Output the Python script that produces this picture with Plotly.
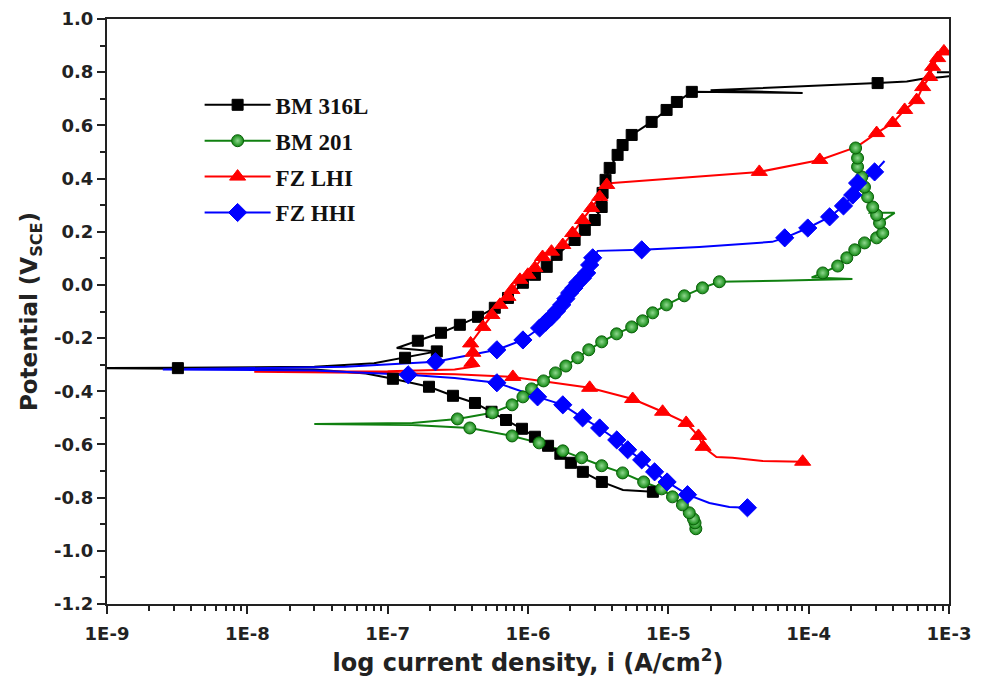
import plotly.graph_objects as go

# ---------------- data (current density A/cm^2, potential V_SCE) ----------------
# BM 316L
bm316_line_i = [7.76e-6, 6.2e-6, 4.75e-6, 3.36e-6, 2.46e-6, 2.02e-6, 1.7e-6, 1.39e-6, 1.12e-6, 9.06e-7, 6.97e-7,
                5.5e-7, 4.19e-7, 2.92e-7, 1.97e-7, 1.09e-7, 7e-8, 3e-8, 3.2e-9, 5e-10, 3.2e-9, 3e-8, 8e-8,
                1.33e-7, 2.24e-7, 1.16e-7, 1.64e-7, 2.4e-7, 3.27e-7, 4.4e-7, 5.8e-7, 7.2e-7, 9.2e-7, 1.12e-6,
                1.36e-6, 1.6e-6, 2.15e-6, 2.54e-6, 2.99e-6, 3.35e-6, 3.4e-6, 3.57e-6, 3.82e-6, 4.35e-6, 4.72e-6,
                5.48e-6, 7.6e-6, 9.72e-6, 1.15e-5, 1.47e-5, 9.06e-5, 2.0e-5, 1.2e-4, 3.1e-4, 5.0e-4, 6.5e-4,
                9.0e-4, 1.3e-3, 1.3e-3, 8.2e-4]
bm316_line_E = [-0.778, -0.776, -0.771, -0.741, -0.703, -0.669, -0.635, -0.605, -0.571, -0.541, -0.508,
                -0.477, -0.444, -0.417, -0.383, -0.353, -0.333, -0.318, -0.313, -0.313, -0.312, -0.308, -0.295,
                -0.274, -0.250, -0.237, -0.210, -0.180, -0.150, -0.120, -0.086, -0.049, 0.008, 0.038,
                0.068, 0.113, 0.169, 0.207, 0.244, 0.293, 0.346, 0.395, 0.440, 0.489, 0.526,
                0.564, 0.613, 0.658, 0.688, 0.726, 0.722, 0.732, 0.748, 0.759, 0.765, 0.775,
                0.782, 0.790, 0.800, 0.800]
bm316_mark_i = [3.2e-9, 1.09e-7, 1.97e-7, 2.92e-7, 4.19e-7, 5.5e-7, 6.97e-7, 9.06e-7, 1.12e-6, 1.39e-6, 1.7e-6,
                2.02e-6, 2.46e-6, 3.36e-6, 7.76e-6,
                1.33e-7, 2.24e-7, 1.64e-7, 2.4e-7, 3.27e-7, 4.4e-7, 5.8e-7, 7.2e-7, 9.2e-7, 1.12e-6, 1.36e-6,
                1.6e-6, 2.15e-6, 2.54e-6, 2.99e-6, 3.35e-6, 3.4e-6, 3.57e-6, 3.82e-6, 4.35e-6, 4.72e-6, 5.48e-6,
                7.6e-6, 9.72e-6, 1.15e-5, 1.47e-5, 3.1e-4]
bm316_mark_E = [-0.313, -0.353, -0.383, -0.417, -0.444, -0.477, -0.508, -0.541, -0.571, -0.605, -0.635,
                -0.669, -0.703, -0.741, -0.778,
                -0.274, -0.250, -0.210, -0.180, -0.150, -0.120, -0.086, -0.049, 0.008, 0.038, 0.068,
                0.113, 0.169, 0.207, 0.244, 0.293, 0.346, 0.395, 0.440, 0.489, 0.526, 0.564,
                0.613, 0.658, 0.688, 0.726, 0.759]

# BM 201
bm201_line_i = [1.57e-5, 1.55e-5, 1.51e-5, 1.41e-5, 1.26e-5, 1.07e-5, 8.96e-6, 6.67e-6, 4.72e-6, 3.35e-6,
                2.41e-6, 1.77e-6, 1.2e-6, 7.7e-7, 3.85e-7, 1.5e-7, 3e-8, 1.5e-7, 3.14e-7, 5.57e-7, 7.7e-7,
                9.2e-7, 1.06e-6, 1.29e-6, 1.57e-6, 1.86e-6, 2.26e-6, 2.71e-6, 3.35e-6, 4.28e-6, 5.48e-6,
                6.56e-6, 7.73e-6, 9.7e-6, 1.3e-5, 1.75e-5, 2.31e-5, 6.0e-5, 1.5e-4, 2.05e-4, 1.05e-4,
                1.26e-4, 1.61e-4, 1.87e-4, 2.13e-4, 2.5e-4, 3.05e-4, 3.37e-4, 3.2e-4, 4.1e-4, 2.72e-4,
                2.86e-4, 2.63e-4, 2.5e-4, 2.39e-4, 2.23e-4, 2.23e-4, 2.16e-4]
bm201_line_E = [-0.917, -0.895, -0.880, -0.857, -0.827, -0.797, -0.767, -0.741, -0.707, -0.680,
                -0.650, -0.624, -0.594, -0.568, -0.538, -0.527, -0.523, -0.519, -0.504, -0.481, -0.451,
                -0.421, -0.391, -0.361, -0.331, -0.305, -0.274, -0.244, -0.214, -0.184, -0.158,
                -0.135, -0.105, -0.075, -0.041, -0.011, 0.012, 0.016, 0.020, 0.022, 0.028,
                0.045, 0.071, 0.102, 0.132, 0.158, 0.177, 0.195, 0.233, 0.271, 0.271,
                0.293, 0.331, 0.368, 0.406, 0.444, 0.477, 0.515]
bm201_mark_i = [1.57e-5, 1.55e-5, 1.51e-5, 1.41e-5, 1.26e-5, 1.07e-5, 8.96e-6, 6.67e-6, 4.72e-6, 3.35e-6,
                2.41e-6, 1.77e-6, 1.2e-6, 7.7e-7, 3.85e-7,
                3.14e-7, 5.57e-7, 7.7e-7, 9.2e-7, 1.06e-6, 1.29e-6, 1.57e-6, 1.86e-6, 2.26e-6, 2.71e-6,
                3.35e-6, 4.28e-6, 5.48e-6, 6.56e-6, 7.73e-6, 9.7e-6, 1.3e-5, 1.75e-5, 2.31e-5,
                1.26e-4, 1.61e-4, 1.87e-4, 2.13e-4, 2.5e-4, 3.05e-4, 3.37e-4, 3.2e-4, 3.05e-4, 2.86e-4,
                2.63e-4, 2.5e-4, 2.39e-4, 2.23e-4, 2.23e-4, 2.16e-4]
bm201_mark_E = [-0.917, -0.895, -0.880, -0.857, -0.827, -0.797, -0.767, -0.741, -0.707, -0.680,
                -0.650, -0.624, -0.594, -0.568, -0.538,
                -0.504, -0.481, -0.451, -0.421, -0.391, -0.361, -0.331, -0.305, -0.274, -0.244,
                -0.214, -0.184, -0.158, -0.135, -0.105, -0.075, -0.041, -0.011, 0.012,
                0.045, 0.071, 0.102, 0.132, 0.158, 0.177, 0.195, 0.233, 0.263, 0.293,
                0.331, 0.368, 0.406, 0.444, 0.477, 0.515]

# FZ LHI
lhi_line_i = [9.06e-5, 4.7e-5, 2.86e-5, 2.2e-5, 1.77e-5, 1.64e-5, 1.34e-5, 9.1e-6, 5.57e-6, 2.75e-6, 7.8e-7,
              3e-7, 1e-7, 1.12e-8, 1e-7, 3e-7, 4.4e-7, 3.98e-7, 4.05e-7, 3.9e-7, 4.77e-7, 5.53e-7, 6.31e-7,
              7.19e-7, 7.68e-7, 8.76e-7, 9.97e-7, 1.12e-6, 1.27e-6, 1.47e-6, 1.77e-6, 2.08e-6, 2.45e-6,
              2.84e-6, 3.24e-6, 3.64e-6, 4.0e-6, 4.45e-5, 1.2e-4, 2.2e-4, 3.05e-4, 3.97e-4, 4.83e-4,
              5.88e-4, 6.49e-4, 7.28e-4, 7.64e-4, 8.3e-4, 9.2e-4]
lhi_line_E = [-0.665, -0.662, -0.650, -0.647, -0.609, -0.568, -0.519, -0.477, -0.429, -0.387, -0.346,
              -0.336, -0.331, -0.327, -0.325, -0.318, -0.305, -0.293, -0.255, -0.220, -0.158, -0.113, -0.075,
              -0.045, -0.019, 0.019, 0.038, 0.064, 0.105, 0.125, 0.150, 0.195, 0.244,
              0.289, 0.331, 0.376, 0.383, 0.425, 0.470, 0.519, 0.571, 0.609, 0.658,
              0.695, 0.744, 0.782, 0.820, 0.853, 0.878]
lhi_mark_i = [9.06e-5, 1.77e-5, 1.64e-5, 1.34e-5, 9.1e-6, 5.57e-6, 2.75e-6, 7.8e-7,
              3.98e-7, 4.05e-7, 3.9e-7, 4.77e-7, 5.53e-7, 6.31e-7, 7.19e-7, 7.68e-7, 8.76e-7, 9.97e-7,
              1.12e-6, 1.27e-6, 1.47e-6, 1.77e-6, 2.08e-6, 2.45e-6, 2.84e-6, 3.24e-6, 3.64e-6,
              4.45e-5, 1.2e-4, 3.05e-4, 3.97e-4, 4.83e-4, 5.88e-4, 6.49e-4, 7.28e-4, 7.64e-4, 8.3e-4, 9.2e-4]
lhi_mark_E = [-0.665, -0.609, -0.568, -0.519, -0.477, -0.429, -0.387, -0.346,
              -0.293, -0.255, -0.220, -0.158, -0.113, -0.075, -0.045, -0.019, 0.019, 0.038,
              0.064, 0.105, 0.125, 0.150, 0.195, 0.244, 0.289, 0.331, 0.376,
              0.425, 0.470, 0.571, 0.609, 0.658, 0.695, 0.744, 0.782, 0.820, 0.853, 0.878]

# FZ HHI
hhi_line_i = [3.66e-5, 2.72e-5, 1.96e-5, 1.37e-5, 9.8e-6, 7.98e-6, 6.46e-6, 5.13e-6, 4.29e-6, 3.24e-6, 2.45e-6,
              1.77e-6, 1.17e-6, 6.0e-7, 3e-7, 1.4e-7, 3e-8, 2.5e-9, 5e-8, 2.19e-7, 6.0e-7, 9.2e-7, 1.21e-6,
              1.34e-6, 1.47e-6, 1.6e-6, 1.74e-6, 1.86e-6, 1.98e-6, 2.12e-6, 2.26e-6, 2.44e-6, 2.62e-6,
              2.75e-6, 2.89e-6, 3.14e-6, 6.46e-6, 1.66e-5, 5.5e-5, 6.75e-5, 9.85e-5, 1.41e-4, 1.77e-4,
              2.06e-4, 2.23e-4, 2.95e-4, 3.47e-4]
hhi_line_E = [-0.838, -0.835, -0.820, -0.789, -0.741, -0.703, -0.658, -0.620, -0.583, -0.538, -0.500,
              -0.451, -0.421, -0.368, -0.350, -0.338, -0.322, -0.318, -0.308, -0.289, -0.244, -0.207, -0.162,
              -0.140, -0.120, -0.098, -0.075, -0.052, -0.030, -0.012, 0.008, 0.025, 0.045,
              0.075, 0.102, 0.128, 0.132, 0.143, 0.162, 0.177, 0.214, 0.256, 0.297,
              0.338, 0.383, 0.425, 0.466]
hhi_mark_i = [3.66e-5, 1.37e-5, 9.8e-6, 7.98e-6, 6.46e-6, 5.13e-6, 4.29e-6, 3.24e-6, 2.45e-6, 1.77e-6,
              1.17e-6, 6.0e-7, 1.4e-7,
              2.19e-7, 6.0e-7, 9.2e-7, 1.21e-6, 1.34e-6, 1.47e-6, 1.6e-6, 1.74e-6, 1.86e-6, 1.98e-6, 2.12e-6,
              2.26e-6, 2.44e-6, 2.62e-6, 2.75e-6, 2.89e-6, 6.46e-6, 6.75e-5, 9.85e-5, 1.41e-4, 1.77e-4,
              2.06e-4, 2.23e-4, 2.95e-4]
hhi_mark_E = [-0.838, -0.789, -0.741, -0.703, -0.658, -0.620, -0.583, -0.538, -0.500, -0.451,
              -0.421, -0.368, -0.338,
              -0.289, -0.244, -0.207, -0.162, -0.140, -0.120, -0.098, -0.075, -0.052, -0.030, -0.012,
              0.008, 0.025, 0.045, 0.075, 0.102, 0.132, 0.177, 0.214, 0.256, 0.297,
              0.338, 0.383, 0.425]

series_names = ["BM 316L", "BM 201", "FZ LHI", "FZ HHI"]

x_tick_vals = [1e-9, 1e-8, 1e-7, 1e-6, 1e-5, 1e-4, 1e-3]
x_tick_text = ["1E-9", "1E-8", "1E-7", "1E-6", "1E-5", "1E-4", "1E-3"]
y_tick_vals = [1.0, 0.8, 0.6, 0.4, 0.2, 0.0, -0.2, -0.4, -0.6, -0.8, -1.0, -1.2]
y_tick_text = ["1.0", "0.8", "0.6", "0.4", "0.2", "0.0", "-0.2", "-0.4", "-0.6", "-0.8", "-1.0", "-1.2"]

# ---------------- styles ----------------
styles = [
    dict(color="#000000", symbol="square", size=11, mline="#000000", grad=None),
    dict(color="#118811", symbol="circle", size=12, mline="#0a5f0a", grad="#8fd88f"),
    dict(color="#ff0000", symbol="triangle-up", size=14, mline="#ff0000", grad=None),
    dict(color="#0000ff", symbol="diamond", size=14, mline="#0000ff", grad=None),
]
line_colors = ["#000000", "#108010", "#ff0000", "#0000ff"]

data = [
    (bm316_line_i, bm316_line_E, bm316_mark_i, bm316_mark_E),
    (bm201_line_i, bm201_line_E, bm201_mark_i, bm201_mark_E),
    (lhi_line_i, lhi_line_E, lhi_mark_i, lhi_mark_E),
    (hhi_line_i, hhi_line_E, hhi_mark_i, hhi_mark_E),
]

fig = go.Figure()

for name, (li, le, mi, me), st, lc in zip(series_names, data, styles, line_colors):
    fig.add_trace(go.Scatter(x=li, y=le, mode="lines", line=dict(color=lc, width=2),
                             showlegend=False, hoverinfo="skip"))
for name, (li, le, mi, me), st, lc in zip(series_names, data, styles, line_colors):
    marker = dict(color=st["color"], symbol=st["symbol"], size=st["size"],
                  line=dict(color=st["mline"], width=1))
    if st["grad"]:
        marker["gradient"] = dict(type="radial", color=st["grad"])
    fig.add_trace(go.Scatter(x=mi, y=me, mode="markers", marker=marker, showlegend=False))
    # legend entry
    fig.add_trace(go.Scatter(x=[None], y=[None], mode="lines+markers", name=name,
                             line=dict(color=lc, width=2), marker=marker, legendgroup=name))

tick_font = dict(family="DejaVu Sans", size=18, color="#222222", weight="bold")

minor_x = [m * 10.0 ** e for e in range(-9, -3) for m in range(2, 10)]

fig.update_layout(
    width=976, height=676,
    margin=dict(l=99, r=35, t=11, b=80),
    paper_bgcolor="white", plot_bgcolor="white",
    showlegend=True,
    legend=dict(x=0.11, y=0.89, xanchor="left", yanchor="top",
                font=dict(family="Liberation Serif", size=23, color="#111111", weight="bold"),
                bgcolor="rgba(0,0,0,0)", traceorder="grouped", tracegroupgap=3,
                itemwidth=66),
    xaxis=dict(type="log", range=[-9, -3], showgrid=False, zeroline=False, automargin=False,
               showline=True, linecolor="#222222", linewidth=2, mirror=True,
               ticks="outside", ticklen=8, tickwidth=2, tickcolor="#222222",
               tickmode="array", tickvals=x_tick_vals, ticktext=x_tick_text,
               tickfont=tick_font, ticklabelstandoff=4,
               minor=dict(tickmode="array", tickvals=minor_x, ticks="outside", ticklen=5,
                          tickwidth=1.5, tickcolor="#222222", showgrid=False),
               title=dict(text="log current density, i (A/cm<sup>2</sup>)",
                          font=dict(family="DejaVu Sans", size=24, color="#222222", weight="bold"),
                          standoff=12)),
    yaxis=dict(range=[-1.2, 1.0], showgrid=False, zeroline=False, automargin=False,
               showline=True, linecolor="#222222", linewidth=2, mirror=True,
               ticks="outside", ticklen=8, tickwidth=2, tickcolor="#222222",
               tickmode="array", tickvals=y_tick_vals, ticktext=y_tick_text,
               tickfont=tick_font,
               minor=dict(dtick=0.1, ticks="outside", ticklen=5, tickwidth=1.5,
                          tickcolor="#222222", showgrid=False),
               title=dict(text="Potential (V<sub>SCE</sub>)",
                          font=dict(family="DejaVu Sans", size=23, color="#222222", weight="bold"),
                          standoff=10)),
)

fig.write_html("out.html")
